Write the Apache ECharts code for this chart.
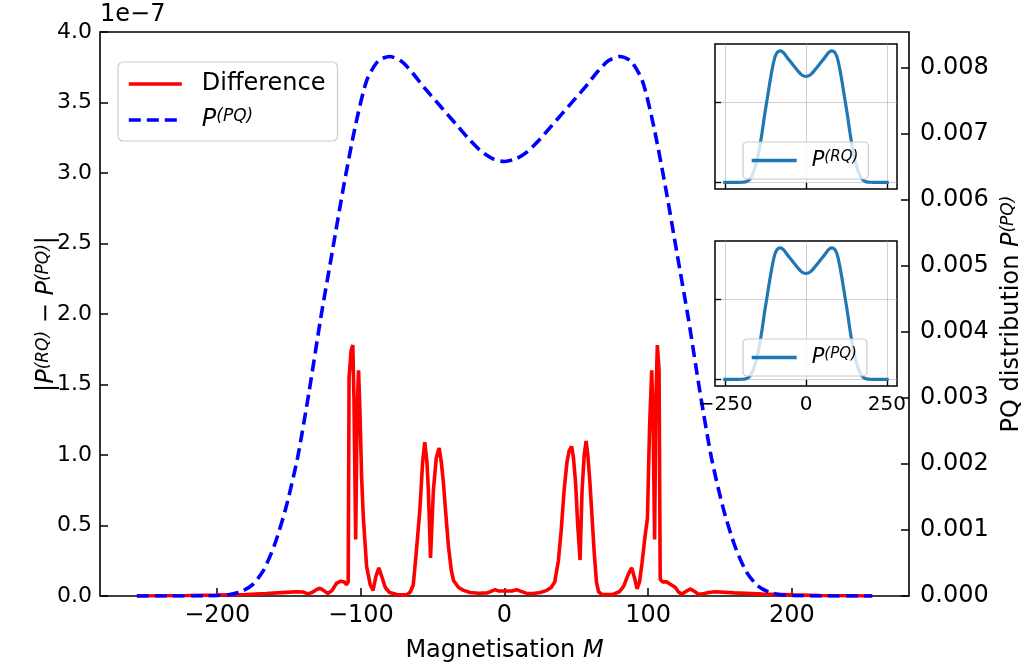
<!DOCTYPE html>
<html>
<head>
<meta charset="utf-8">
<script src="https://cdn.jsdelivr.net/npm/echarts@6/dist/echarts.min.js"></script>
<style>
  html, body { margin: 0; padding: 0; background: #fff; }
  #main { width: 1032px; height: 669px; }
</style>
</head>
<body>
<div id="main"></div>
<script>
// magnetisation values for the PQ distribution
var mGrid = [-256, -248, -240, -232, -224, -216, -208, -200, -192, -184, -176, -168, -160, -152, -144, -136,
    -128, -120, -112, -104, -96, -88, -80, -72, -64, -56, -48, -40, -32, -24, -16, -8,
    0, 8, 16, 24, 32, 40, 48, 56, 64, 72, 80, 88, 96, 104, 112, 120,
    128, 136, 144, 152, 160, 168, 176, 184, 192, 200, 208, 216, 224, 232, 240, 248, 256];
var pPQ = [0, 0, 0, 0, 0, 0.000001, 0.000003, 0.000008, 0.00002, 0.00006, 0.00016, 0.00038, 0.00078, 0.00135, 0.0021, 0.0031,
    0.0042, 0.0052, 0.0062, 0.0071, 0.0078, 0.0081, 0.00817, 0.0081, 0.00792, 0.0077, 0.0075, 0.0073, 0.0071, 0.0069, 0.00673, 0.00662,
    0.00658, 0.00662, 0.00673, 0.0069, 0.0071, 0.0073, 0.0075, 0.0077, 0.00792, 0.0081, 0.00817, 0.0081, 0.0078, 0.0071, 0.0062, 0.0052,
    0.0042, 0.0031, 0.0021, 0.00135, 0.00078, 0.00038, 0.00016, 0.00006, 0.00002, 0.000008, 0.000003, 0.000001, 0, 0, 0, 0, 0];

// |P(RQ) - P(PQ)| in units of 1e-7
var diffM = [-256, -240, -220, -200, -180, -166, -152, -145, -140, -137, -134, -131, -128.5, -126, -123, -120, -117, -114, -111.5,
    -110, -108.8, -108.2, -106.8, -105.6, -104.8, -103.6, -102.6, -101.6, -100.6, -99.5, -98.3, -96, -93.5, -91.5, -89.5, -87.5, -85.5, -83, -80,
    -75, -68, -65.5, -63.5, -61.5, -59, -57, -55.5, -54, -53, -51.5, -49.5, -47.5, -45.5, -44, -42.5, -41, -39, -37, -35.5, -32, -28.5,
    -24, -18, -12, -9, -6.5, -4, -1, 2, 5, 8.5, 11, 15, 20, 25, 29.5, 32.5, 35, 37.5, 39.5, 41.5, 43.5, 45, 46.8, 48, 49.5, 51, 52.6,
    54, 55.5, 56.8, 58, 59.5, 61, 62.5, 64, 65.5, 68, 75, 80, 83, 86, 88.5, 90.5, 92.3, 94, 95.7, 97.8, 99.5, 101, 102.5, 103.5, 104.5,
    105.4, 106.4, 107.6, 108.4, 110, 113, 116, 119, 121, 123.4, 126, 129.2, 132, 135, 138, 142, 147, 160, 180, 200, 220, 240, 256];
var diffVal = [0, 0.002, 0.004, 0.007, 0.011, 0.018, 0.026, 0.03, 0.028, 0.015, 0.025, 0.045, 0.055, 0.04, 0.018, 0.04, 0.09, 0.105, 0.1,
    0.08, 0.1, 1.55, 1.74, 1.78, 1.4, 0.40, 1.3, 1.60, 1.3, 0.85, 0.56, 0.21, 0.08, 0.04, 0.14, 0.2, 0.14, 0.06, 0.025,
    0.01, 0.008, 0.03, 0.08, 0.3, 0.6, 0.95, 1.09, 0.95, 0.75, 0.27, 0.75, 0.98, 1.05, 0.95, 0.8, 0.6, 0.35, 0.18, 0.11, 0.06, 0.04,
    0.025, 0.02, 0.022, 0.035, 0.045, 0.035, 0.035, 0.035, 0.035, 0.045, 0.035, 0.02, 0.018, 0.025, 0.04, 0.06, 0.1, 0.25, 0.47, 0.75, 0.95, 1.03, 1.06, 0.98, 0.8, 0.5, 0.255,
    0.75, 1.0, 1.10, 1.0, 0.8, 0.55, 0.3, 0.1, 0.03, 0.01, 0.01, 0.03, 0.07, 0.15, 0.2, 0.13, 0.05, 0.1, 0.23, 0.42, 0.55, 1.2, 1.60, 1.2, 0.40,
    1.4, 1.78, 1.6, 0.12, 0.1, 0.1, 0.08, 0.06, 0.03, 0.012, 0.03, 0.05, 0.035, 0.012, 0.015, 0.025, 0.03, 0.022, 0.013, 0.008, 0.004, 0.002, 0];

var xTicks = [-200, -100, 0, 100, 200];
var rightTicks = [0, 0.001, 0.002, 0.003, 0.004, 0.005, 0.006, 0.007, 0.008];
var insetXTicks = [-250, 0, 250];
var insetYTicks = [0, 0.005];

var FONT = 'DejaVu Sans';

function pairs(xs, ys) {
    return xs.map(function (x, i) { return [x, ys[i]]; });
}
function minus(v) {
    return v < 0 ? '\u2212' + Math.abs(v) : String(v);
}

var supRich = function (size, gap) {
    return {
        i: { fontStyle: 'italic', fontSize: size, fontFamily: FONT, color: '#000' },
        s: { fontStyle: 'italic', fontSize: Math.round(size * 0.72), fontFamily: FONT, verticalAlign: 'top', color: '#000' },
        t: { fontSize: size, fontFamily: FONT, color: '#000' },
        g: { width: gap || 15 }
    };
};

var names = {
    'Difference': '{g|}{t|Difference}',
    'PQ': '{g|}{i|P}{s|(PQ)}',
    'RQ inset': '{g|}{i|P}{s|(RQ)}',
    'PQ inset': '{g|}{i|P}{s|(PQ)}'
};

var insetAxisX = function (idx, showLabels) {
    return {
        type: 'value', gridIndex: idx, min: -281.6, max: 281.6, z: 4,
        axisLine: { show: false, onZero: false },
        axisTick: { show: true, inside: true, length: 6, customValues: insetXTicks, lineStyle: { color: '#000', width: 1.4 } },
        axisLabel: { show: showLabels, customValues: insetXTicks, formatter: minus, fontSize: 20, color: '#000', fontFamily: FONT, margin: 9 },
        splitLine: { show: true, lineStyle: { color: '#b0b0b0', width: 1, opacity: 0.6 } }
    };
};
var insetAxisY = function (idx) {
    return {
        type: 'value', gridIndex: idx, min: -0.00041, max: 0.0086, z: 4,
        axisLine: { show: false, onZero: false },
        axisTick: { show: true, inside: true, length: 6, customValues: insetYTicks, lineStyle: { color: '#000', width: 1.4 } },
        axisLabel: { show: false, customValues: insetYTicks },
        splitLine: { show: true, lineStyle: { color: '#b0b0b0', width: 1, opacity: 0.6 } }
    };
};
var insetLegend = function (top, name) {
    return {
        left: 743, top: top, z: 6, data: [name], selectedMode: false,
        itemWidth: 45, itemHeight: 12, padding: [8, 10, 8, 7],
        borderColor: '#cccccc', borderWidth: 1.2, borderRadius: 4,
        backgroundColor: 'rgba(255,255,255,0.8)',
        itemStyle: { opacity: 0 },
        lineStyle: { width: 3.4 },
        textStyle: { fontSize: 20, rich: supRich(21, 10) },
        formatter: function (n) { return names[n]; }
    };
};

var chart = echarts.init(document.getElementById('main'));
chart.setOption({
    animation: false,
    textStyle: { fontFamily: FONT },
    grid: [
        { left: 100, right: 123, top: 32, bottom: 73, show: true, borderColor: '#000', borderWidth: 1.6, backgroundColor: 'transparent' },
        { left: 715, top: 44, width: 182, height: 145, show: true, z: 3, borderColor: '#000', borderWidth: 1.5, backgroundColor: '#fff' },
        { left: 715, top: 241, width: 182, height: 145, show: true, z: 3, borderColor: '#000', borderWidth: 1.5, backgroundColor: '#fff' }
    ],
    xAxis: [
        {
            type: 'value', gridIndex: 0, min: -281.6, max: 281.6,
            name: 'Magnetisation {i|M}', nameLocation: 'middle', nameGap: 43,
            nameTextStyle: { fontSize: 24, color: '#000', rich: supRich(24) },
            axisLine: { show: false, onZero: false },
            axisTick: { inside: true, length: 8, customValues: xTicks, lineStyle: { color: '#000', width: 1.5 } },
            axisLabel: { customValues: xTicks, formatter: minus, fontSize: 24, color: '#000', margin: 8 },
            splitLine: { show: false }
        },
        insetAxisX(1, false),
        insetAxisX(2, true)
    ],
    yAxis: [
        {
            type: 'value', gridIndex: 0, min: 0, max: 4, interval: 0.5, position: 'left',
            name: '|{i|P}{s|(RQ)} \u2212 {i|P}{s|(PQ)}|', nameLocation: 'middle', nameGap: 41, nameRotate: 90,
            nameMoveOverlap: false,
            nameTextStyle: { fontSize: 24, color: '#000', rich: supRich(24) },
            axisLine: { show: false, onZero: false },
            axisTick: { inside: true, length: 8, lineStyle: { color: '#000', width: 1.5 } },
            axisLabel: { formatter: function (v) { return v.toFixed(1); }, fontSize: 22, color: '#000', margin: 8 },
            splitLine: { show: false }
        },
        {
            type: 'value', gridIndex: 0, min: 0, max: 0.00854, position: 'right',
            name: 'PQ distribution {i|P}{s|(PQ)}', nameLocation: 'middle', nameGap: 87, nameRotate: 90,
            nameTextStyle: { fontSize: 24, color: '#000', rich: supRich(24) },
            axisLine: { show: false, onZero: false },
            axisTick: { inside: true, length: 8, customValues: rightTicks, lineStyle: { color: '#000', width: 1.5 } },
            axisLabel: { customValues: rightTicks, formatter: function (v) { return v.toFixed(3); }, fontSize: 24, color: '#000', margin: 11 },
            splitLine: { show: false }
        },
        insetAxisY(1),
        insetAxisY(2)
    ],
    legend: [
        {
            left: 118, top: 62, orient: 'vertical', z: 6, data: ['Difference', 'PQ'], selectedMode: false,
            itemWidth: 53, itemHeight: 14, itemGap: 12, padding: [10, 12, 9, 9],
            borderColor: '#cccccc', borderWidth: 1.2, borderRadius: 5,
            backgroundColor: 'rgba(255,255,255,0.8)',
            itemStyle: { opacity: 0 },
            lineStyle: { width: 3.6 },
            textStyle: { fontSize: 24, rich: supRich(24) },
            formatter: function (n) { return names[n]; }
        },
        insetLegend(142, 'RQ inset'),
        insetLegend(339, 'PQ inset')
    ],
    graphic: [
        { type: 'text', left: 100, top: 3, style: { text: '1e\u22127', fontSize: 24, fontFamily: FONT, fill: '#000' } }
    ],
    series: [
        {
            name: 'Difference', type: 'line', xAxisIndex: 0, yAxisIndex: 0, z: 2,
            data: pairs(diffM, diffVal), symbol: 'none',
            lineStyle: { color: '#ff0000', width: 3.6 }, itemStyle: { color: '#ff0000' }
        },
        {
            name: 'PQ', type: 'line', xAxisIndex: 0, yAxisIndex: 1, z: 2,
            data: pairs(mGrid, pPQ), symbol: 'none', smooth: 0.25,
            lineStyle: { color: '#0000ff', width: 3.6, type: [12, 6] }, itemStyle: { color: '#0000ff' }
        },
        {
            name: 'RQ inset', type: 'line', xAxisIndex: 1, yAxisIndex: 2, z: 5,
            data: pairs(mGrid, pPQ), symbol: 'none', smooth: 0.25,
            lineStyle: { color: '#1f77b4', width: 3.2 }, itemStyle: { color: '#1f77b4' }
        },
        {
            name: 'PQ inset', type: 'line', xAxisIndex: 2, yAxisIndex: 3, z: 5,
            data: pairs(mGrid, pPQ), symbol: 'none', smooth: 0.25,
            lineStyle: { color: '#1f77b4', width: 3.2 }, itemStyle: { color: '#1f77b4' }
        }
    ]
});
</script>
</body>
</html>
